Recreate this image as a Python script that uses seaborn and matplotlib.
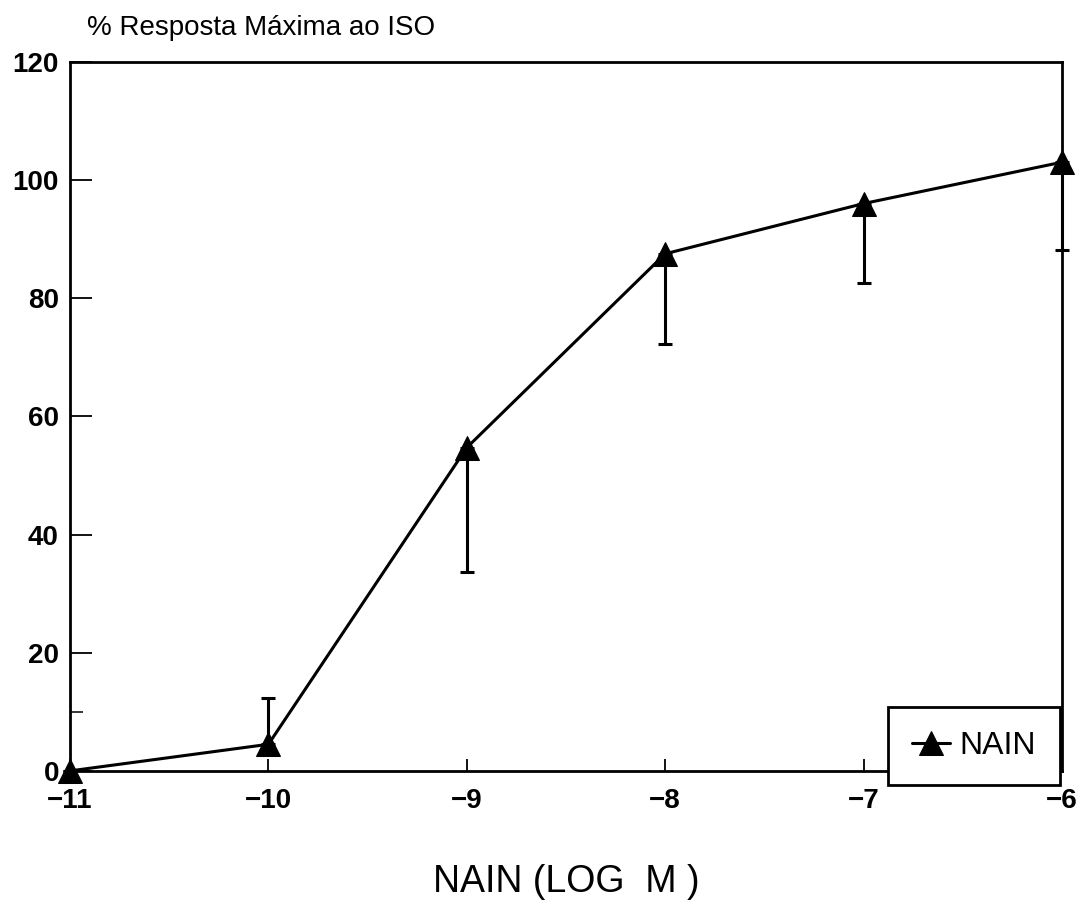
import numpy as np
import pandas as pd
import matplotlib
matplotlib.use("Agg")
import matplotlib.pyplot as plt
import seaborn as sns

# Data
log_conc = [-11, -10, -9, -8, -7, -6]
response = [0, 4.5, 54.7, 87.5, 96, 103]
err_lower = [0, 0, 21, 15.2, 13.4, 14.8]
err_upper = [0, 7.8, 0, 0, 0, 0]
series_name = "NAIN"
y_major = [0, 20, 40, 60, 80, 100, 120]
y_minor = [10]

sns.set_theme(style="white")
plt.rcParams['font.family'] = ['Liberation Sans', 'DejaVu Sans']
plt.rcParams['text.color'] = 'black'
plt.rcParams['axes.labelcolor'] = 'black'

df = pd.DataFrame({"x": log_conc, "y": response, "Series": series_name})

fig = plt.figure(figsize=(10.84, 9.08), dpi=100)
ax = fig.add_axes([0.0646, 0.151, 0.915, 0.781])

ax.errorbar(log_conc, response, yerr=[err_lower, err_upper], fmt='none',
            ecolor='black', elinewidth=2.2, capsize=5, capthick=2.2, zorder=2,
            clip_on=False)
sns.lineplot(data=df, x="x", y="y", hue="Series", palette=["black"],
             marker="^", markersize=17, markeredgecolor="black",
             linewidth=2.2, ax=ax, zorder=3, clip_on=False, legend=True)

ax.set_xlim(-11, -6)
ax.set_ylim(0, 120)
ax.set_xticks(log_conc)
ax.set_xticklabels([str(v).replace('-', '\u2212') for v in log_conc])
ax.set_yticks(y_major)
ax.set_yticks(y_minor, minor=True)
ax.tick_params(axis='x', which='major', direction='in', length=9, width=1.3,
               labelsize=20, colors='black', pad=12, bottom=True)
ax.tick_params(axis='y', which='major', direction='in', length=16, width=1.3,
               labelsize=20, colors='black', pad=8, left=True)
ax.tick_params(axis='y', which='minor', direction='in', length=9, width=1.3, left=True)
for lbl in ax.get_xticklabels() + ax.get_yticklabels():
    lbl.set_fontweight('bold')

for s in ax.spines.values():
    s.set_color('black')
    s.set_linewidth(2)

ax.set_xlabel("NAIN (LOG  M )", fontsize=27, labelpad=36, color='black')
ax.set_ylabel("")
fig.text(0.08, 0.969, "% Resposta Máxima ao ISO", fontsize=20, ha='left', va='center',
         color='black')

leg = ax.legend(loc='lower right', bbox_to_anchor=(0.998, -0.02), fontsize=23,
                frameon=True, fancybox=False, edgecolor='black', framealpha=1,
                handlelength=1.2, handletextpad=0.3, borderpad=0.75, title=None,
                borderaxespad=0, labelcolor='black')
leg.get_frame().set_linewidth(2)
leg.set_zorder(5)

fig.savefig("out.png", dpi=100, facecolor='white')
